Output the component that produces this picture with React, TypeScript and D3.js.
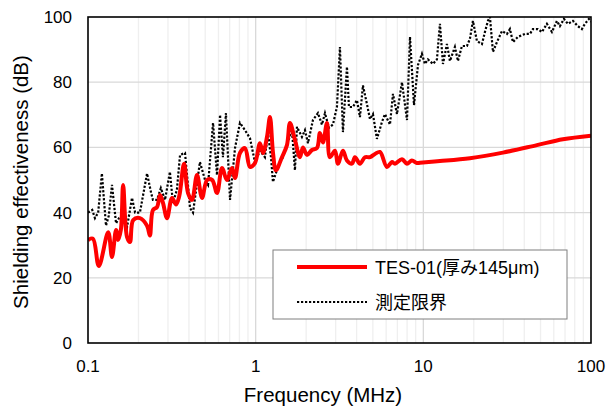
import React from 'react';
import * as d3 from 'd3';

// TES-01 (smoothed red line)
const redFreq = [0.1, 0.107, 0.116, 0.132, 0.139, 0.147, 0.151, 0.157, 0.162, 0.171, 0.178, 0.186, 0.204, 0.225, 0.234, 0.244, 0.258, 0.269, 0.28, 0.296, 0.317, 0.335, 0.35, 0.374, 0.395, 0.417, 0.447, 0.479, 0.513, 0.55, 0.588, 0.63, 0.674, 0.722, 0.753, 0.806, 0.864, 0.925, 0.99, 1.061, 1.105, 1.168, 1.217, 1.269, 1.321, 1.435, 1.537, 1.602, 1.715, 1.837, 1.915, 2.022, 2.166, 2.32, 2.417, 2.519, 2.663, 2.773, 2.971, 3.096, 3.316, 3.503, 3.752, 3.91, 4.189, 4.486, 4.805, 5.147, 5.512, 6.067, 6.499, 6.772, 7.455, 7.987, 8.551, 9.158, 9.544, 12.56, 18.96, 29.83, 47.58, 67.98, 100];
const redDb = [31.6, 32, 23.6, 34, 26.4, 34.7, 31.6, 34.7, 48.5, 32.5, 31, 37.7, 38.3, 36, 33, 40.8, 41.7, 45.4, 43, 38.3, 44.5, 42.5, 45, 55, 46, 43.9, 51.5, 44.5, 50, 50, 46, 53.7, 50, 53.7, 50.6, 58.3, 59.8, 54, 55.2, 61.3, 58.3, 63.2, 69.3, 58.3, 53, 57, 60.7, 67.5, 62.3, 57, 60, 57.7, 59.2, 59.8, 64.4, 61.5, 67.5, 57, 59, 55, 59, 56, 55, 57, 55, 57, 57, 58, 58.6, 54, 55.5, 55, 56.4, 55, 56, 55.2, 55.3, 55.8, 56.7, 58.4, 60.7, 62.5, 63.6];

// 測定限界 (dotted black line)
const limFreq = [0.1, 0.106, 0.11, 0.115, 0.121, 0.128, 0.133, 0.139, 0.147, 0.153, 0.16, 0.171, 0.183, 0.191, 0.204, 0.225, 0.238, 0.244, 0.258, 0.272, 0.288, 0.308, 0.321, 0.339, 0.354, 0.379, 0.406, 0.423, 0.465, 0.499, 0.52, 0.557, 0.588, 0.613, 0.638, 0.665, 0.703, 0.722, 0.753, 0.806, 0.863, 0.925, 0.99, 1.061, 1.136, 1.184, 1.234, 1.268, 1.358, 1.455, 1.558, 1.646, 1.715, 1.763, 1.888, 1.968, 2.051, 2.196, 2.352, 2.485, 2.59, 2.736, 2.89, 3.053, 3.182, 3.316, 3.503, 3.6, 3.804, 4.018, 4.187, 4.363, 4.61, 4.804, 5.006, 5.288, 5.665, 5.903, 6.324, 6.59, 6.962, 7.458, 7.99, 8.326, 8.796, 9.292, 9.81, 10.22, 10.65, 11.41, 12.05, 12.56, 13.09, 13.83, 14.41, 15.43, 16.08, 16.99, 18.2, 18.96, 19.76, 20.88, 22.36, 23.3, 24.28, 24.96, 26.01, 27.48, 29.43, 31.52, 32.85, 34.23, 36.66, 40.35, 43.22, 45.04, 48.25, 50.96, 54.58, 58.46, 62.61, 65.25, 68.93, 72.83, 78, 83.54, 88.25, 91.96, 97.16, 100];
const limDb = [40, 40.8, 38.3, 40, 52, 36, 39, 48.5, 36.7, 38.3, 39, 35.6, 44.5, 40, 40, 52, 46, 43.9, 43.9, 47.5, 43.9, 52.5, 43, 47, 57.7, 58.3, 41.4, 40, 55.5, 50, 48.5, 67.5, 51.5, 70, 57, 70.5, 43.9, 50, 59.8, 67.5, 65.3, 62.8, 55.5, 59, 57, 64.4, 57, 49.4, 54, 57, 61.7, 65.3, 53, 66.3, 63.2, 65.3, 61.3, 68.4, 70.5, 67, 70.5, 66, 67, 72.4, 90.8, 64.7, 84.7, 72.4, 72.4, 74.5, 69.3, 79, 73.3, 68.7, 70.2, 62.6, 67.8, 70.2, 67, 76.4, 70.2, 80, 68.4, 93.9, 73, 85.3, 88.7, 85.6, 87, 85.6, 87, 97.9, 85.6, 91.7, 86.5, 90.8, 86.5, 91.1, 91.1, 93.3, 98.8, 92.6, 91.7, 95.4, 98.8, 100, 89.3, 92.3, 95.7, 94.8, 96.3, 92.3, 93.9, 94.8, 94.8, 96.3, 96.3, 95.4, 97.9, 95.4, 98.8, 97.2, 99.4, 97.9, 98.8, 97.2, 96.3, 97.9, 99.4, 98.5];

const xTicks = [0.1, 1, 10, 100];
const xTickLabels = ['0.1', '1', '10', '100'];
const yTicks = [0, 20, 40, 60, 80, 100];

const seriesNames = ['TES-01(厚み145μm)', '測定限界'];

const W = 607;
const H = 406;
const margin = { top: 17, right: 16, bottom: 63, left: 88 };
const font = '"Liberation Sans", Arial, "Noto Sans CJK JP", sans-serif';

export default function App() {
    const innerW = W - margin.left - margin.right;
    const innerH = H - margin.top - margin.bottom;

    const x = d3.scaleLog().domain([0.1, 100]).range([0, innerW]);
    const y = d3.scaleLinear().domain([0, 100]).range([innerH, 0]);

    // minor grid at 2..9 in each decade
    const minor: number[] = [];
    [0.1, 1, 10].forEach(dec => {
        for (let k = 2; k <= 9; k++) minor.push(dec * k);
    });

    const redLine = d3.line<number>()
        .x((_, i) => x(redFreq[i]))
        .y(d => y(d))
        .curve(d3.curveCatmullRom.alpha(0.5));

    const limLine = d3.line<number>()
        .x((_, i) => x(limFreq[i]))
        .y(d => y(d));

    const legX = 273 - margin.left;
    const legY = 250 - margin.top;
    const dots = { strokeWidth: 2.2, strokeDasharray: '2.2,1.8' };

    return (
        <div style={{ position: 'absolute', left: 0, top: 0 }}>
            <svg width={W} height={H} style={{ display: 'block', background: '#fff' }}>
                <defs>
                    <clipPath id="plot">
                        <rect x={0} y={0} width={innerW} height={innerH} />
                    </clipPath>
                </defs>
                <g transform={`translate(${margin.left},${margin.top})`}>
                    {minor.map(v => (
                        <line key={'m' + v} x1={x(v)} x2={x(v)} y1={0} y2={innerH} stroke="#efefef" strokeWidth={1.3} />
                    ))}
                    {xTicks.slice(1, -1).map(v => (
                        <line key={'xv' + v} x1={x(v)} x2={x(v)} y1={0} y2={innerH} stroke="#d9d9d9" strokeWidth={1.3} />
                    ))}
                    {yTicks.slice(1, -1).map(v => (
                        <line key={'yh' + v} x1={0} x2={innerW} y1={y(v)} y2={y(v)} stroke="#d9d9d9" strokeWidth={1.3} />
                    ))}

                    <g clipPath="url(#plot)">
                        <path d={limLine(limDb) || ''} fill="none" stroke="#000" {...dots} />
                        <path d={redLine(redDb) || ''} fill="none" stroke="#ff0000" strokeWidth={4} strokeLinejoin="round" />
                    </g>

                    <rect x={0} y={0} width={innerW} height={innerH} fill="none" stroke="#000" strokeWidth={1.6} />

                    {yTicks.map(v => (
                        <text key={'yt' + v} x={-16} y={y(v)} dy="0.35em" textAnchor="end" fontSize={17} fontFamily={font} fill="#000">{v}</text>
                    ))}
                    {xTicks.map((v, i) => (
                        <text key={'xt' + v} x={x(v)} y={innerH + 29} textAnchor="middle" fontSize={17} fontFamily={font} fill="#000">{xTickLabels[i]}</text>
                    ))}

                    <g transform={`translate(${legX},${legY})`}>
                        <rect x={0} y={0} width={294} height={69} fill="#fff" stroke="#7f7f7f" strokeWidth={1} />
                        <line x1={24} x2={94} y1={17} y2={17} stroke="#ff0000" strokeWidth={4} />
                        <text x={102} y={18} dy="0.35em" fontSize={18} fontFamily={font}>{seriesNames[0]}</text>
                        <line x1={24} x2={94} y1={52} y2={52} stroke="#000" {...dots} />
                        <text x={102} y={53} dy="0.35em" fontSize={18} fontFamily={font}>{seriesNames[1]}</text>
                    </g>
                </g>
                <text x={323} y={402} textAnchor="middle" fontSize={20.5} fontFamily={font}>Frequency (MHz)</text>
                <text transform={`translate(28,${182}) rotate(-90)`} textAnchor="middle" fontSize={20.5} fontFamily={font}>Shielding effectiveness (dB)</text>
            </svg>
        </div>
    );
}
